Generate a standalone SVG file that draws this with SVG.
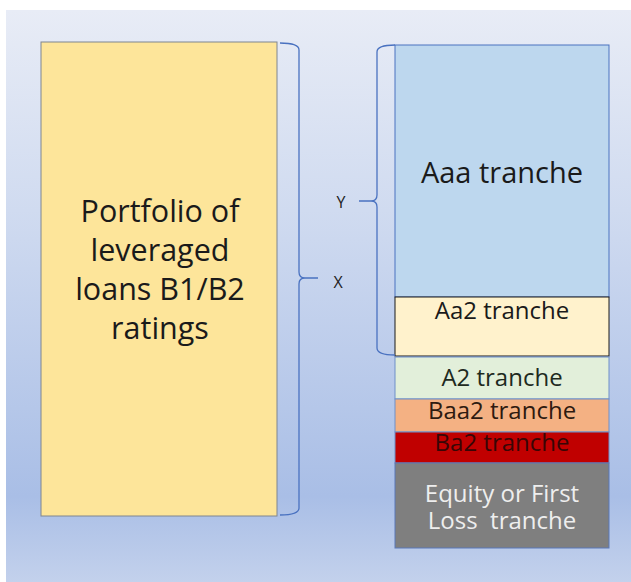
<svg xmlns="http://www.w3.org/2000/svg" width="631" height="582" viewBox="0 0 631 582">
<defs>
<linearGradient id="bg" x1="0" y1="0" x2="0" y2="1">
<stop offset="0" stop-color="#e8ecf6"/>
<stop offset="0.35" stop-color="#d0dbf0"/>
<stop offset="0.85" stop-color="#a9bee6"/>
<stop offset="1" stop-color="#c3d1ec"/>
</linearGradient>
<style>
text{font-family:"Open Sans","Liberation Sans",sans-serif;text-anchor:middle}
.br{fill:none;stroke:#4a72c0;stroke-width:1.3}
.t24{font-size:24px}
.lbl{font-size:16px;fill:#222}
</style>
</defs>
<rect x="0" y="0" width="631" height="582" fill="#ffffff"/>
<rect x="6" y="10" width="625" height="572" fill="url(#bg)"/>
<g id="portfolio">
<rect x="41" y="42" width="236" height="474" fill="#fde59a" stroke="#7f8590" stroke-width="1"/>
<text font-size="30.5px" fill="#1a1a1a"><tspan x="160" y="222">Portfolio of</tspan><tspan x="160" y="261">leveraged</tspan><tspan x="160" y="300">loans B1/B2</tspan><tspan x="160" y="339">ratings</tspan></text>
</g>
<g id="aaa">
<rect x="395" y="45" width="214" height="252" fill="#bdd7ee" stroke="#4a72c0" stroke-width="1"/>
<text x="502" y="183" font-size="29px" fill="#1a1a1a">Aaa tranche</text>
</g>
<g id="aa2">
<rect x="395" y="297" width="214" height="59" fill="#fff2cc" stroke="#1a1a1a" stroke-width="1"/>
<text x="502" y="319" class="t24" fill="#1a1a1a">Aa2 tranche</text>
</g>
<g id="a2">
<rect x="395" y="357" width="214" height="42" fill="#e2efda" stroke="#6f8fc8" stroke-width="1"/>
<text x="502" y="386" class="t24" fill="#1e2a1e">A2 tranche</text>
</g>
<g id="baa2">
<rect x="395" y="399" width="214" height="33" fill="#f4b183" stroke="#6f8fc8" stroke-width="1"/>
<text x="502" y="419" class="t24" fill="#2e1a10">Baa2 tranche</text>
</g>
<g id="ba2">
<rect x="395" y="432" width="214" height="31" fill="#c00000" stroke="#6f8fc8" stroke-width="1"/>
<text x="502" y="451" class="t24" fill="#380606">Ba2 tranche</text>
</g>
<g id="equity">
<rect x="395" y="463" width="214" height="85" fill="#7f7f7f" stroke="#5a78b8" stroke-width="1"/>
<text x="502" y="502" class="t24" fill="#eeeeee">Equity or First</text>
<text x="502" y="529" class="t24" fill="#eeeeee">Loss&#160; tranche</text>
</g>
<g id="connectors">
<path class="br" d="M280,43 Q299,43 299,50 L299,272 Q299,278 305,278 L318,278 M305,278 Q299,278 299,284 L299,508 Q299,515 280,515"/>
<path class="br" d="M395,45 Q377,45 377,52 L377,195 Q377,201 371,201 L359,201 M371,201 Q377,201 377,207 L377,348 Q377,355 395,355"/>
</g>
<g id="label-y"><text x="341" y="208" class="lbl">Y</text></g>
<g id="label-x"><text x="338" y="288" class="lbl">X</text></g>
</svg>
